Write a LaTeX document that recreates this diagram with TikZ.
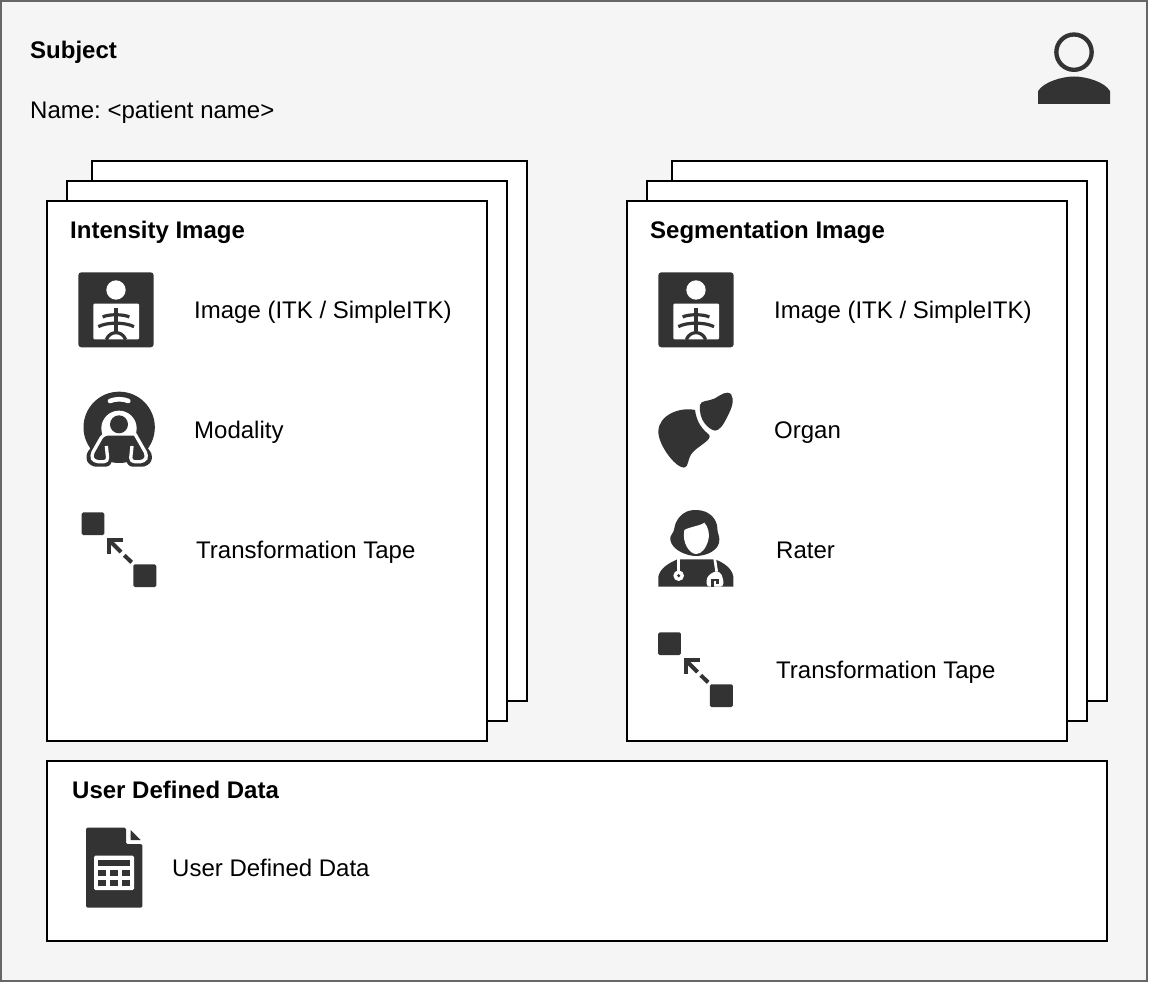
\documentclass[tikz,border=0pt]{standalone}
\usepackage{fontspec}
\setmainfont{Liberation Sans}
\usepackage{xcolor}
\usepackage{tikz}
\definecolor{ink}{HTML}{333333}
\definecolor{frame}{HTML}{666666}
\definecolor{paper}{HTML}{F5F5F5}
\frenchspacing

\newcommand{\iconxray}[2]{
\begin{scope}[shift={(#1,#2)},scale=1/3]
\fill [ink, rounded corners=3pt] (55,37) rectangle (281,262);
\fill [white] (168,90) circle (29);
\fill [white, rounded corners=1pt] (100,131) rectangle (237,238);
\draw [ink, line width=3.6pt] (168,143) -- (168,222);
\draw [ink, line width=3.2pt] (128,171) .. controls (145,162) and (190,162) .. (208,171);
\draw [ink, line width=3.2pt] (115,200) .. controls (140,186) and (195,186) .. (222,200);
\draw [ink, line width=3.2pt] (139,239) .. controls (145,222) and (160,218) .. (168,218) .. controls (176,218) and (191,222) .. (197,239);
\end{scope}
}
\newcommand{\iconscanner}[2]{
\begin{scope}[shift={(#1,#2)},scale=1/3]
\fill [ink] (117.5,112) circle (107);
\fill [ink, rounded corners=6pt] (50,150) -- (14,198) -- (30,230) -- (95,230) -- (95,170) -- cycle;
\fill [ink, rounded corners=6pt] (185,150) -- (221,198) -- (205,230) -- (140,230) -- (140,170) -- cycle;
\draw [white, line width=4.6pt, line cap=round] (90,33) .. controls (105,26) and (130,26) .. (145,33);
\fill [white] (117,115) circle (53);
\fill [ink, rounded corners=3pt] (70,132) -- (165,132) -- (202,197) -- (193,215) -- (42,215) -- (33,197) -- cycle;
\draw [white, line width=3.3pt, line join=round, rounded corners=4pt] (165,132) -- (70,132) -- (33,197) -- (42,215) -- (84,215) -- (79,168);
\draw [white, line width=3.3pt, line join=round, rounded corners=4pt] (165,132) -- (202,197) -- (193,215) -- (151,215) -- (156,168);
\fill [ink] (117,103) circle (27);
\end{scope}
}
\newcommand{\icontape}[2]{
\begin{scope}[shift={(#1,#2)},scale=1/3]
\fill [ink, rounded corners=1.5pt] (35,37) rectangle (103,105);
\fill [ink, rounded corners=1.5pt] (190,193) rectangle (259,261);
\draw [ink, line width=4pt] (160,121) -- (118,121) -- (118,162);
\draw [ink, line width=4pt] (122,125) -- (153,156);
\draw [ink, line width=4pt] (163,166) -- (185,187);
\end{scope}
}
\newcommand{\iconliver}[2]{
\begin{scope}[shift={(#1,#2)},scale=1/3]
\fill [ink] (165,90) .. controls (120,80) and (55,105) .. (55,155) .. controls (55,195) and (105,262) .. (132,263) .. controls (148,262) and (140,235) .. (160,215) .. controls (180,195) and (215,180) .. (208,165) .. controls (190,150) and (170,130) .. (165,90) -- cycle;
\fill [ink] (180,75) .. controls (182,60) and (205,65) .. (225,55) .. controls (245,42) and (262,32) .. (273,42) .. controls (285,60) and (275,85) .. (262,110) .. controls (250,135) and (238,152) .. (225,152) .. controls (205,148) and (175,120) .. (180,75) -- cycle;
\end{scope}
}
\newcommand{\iconrater}[2]{
\begin{scope}[shift={(#1,#2)},scale=1/3]
\fill [ink] (168,390) .. controls (125,388) and (105,425) .. (103,445) .. controls (102,460) and (88,465) .. (91,480) .. controls (96,510) and (140,528) .. (168,528) .. controls (200,528) and (240,510) .. (238,478) .. controls (238,465) and (232,460) .. (232,445) .. controls (232,420) and (210,390) .. (168,390) -- cycle;
\fill [white] (133,450) .. controls (150,440) and (180,438) .. (193,428) .. controls (205,440) and (210,465) .. (205,480) .. controls (198,505) and (185,522) .. (168,522) .. controls (150,522) and (125,490) .. (133,450) -- cycle;
\fill [ink] (55,620) -- (55,590) .. controls (60,565) and (85,550) .. (112,538) -- (225,538) .. controls (255,550) and (275,565) .. (280,590) -- (280,620) -- cycle;
\draw [white, line width=2.7pt] (116,535) -- (116,580);
\fill [white] (116,587) circle (16);
\fill [ink] (116,587) circle (5);
\draw [white, line width=2.7pt] (224,535) -- (230,575);
\fill [white, rounded corners=3pt] (200,620) -- (200,592) -- (220,575) -- (240,575) -- (250,597) -- (250,620) -- cycle;
\fill [ink] (214,596) rectangle (237,604);
\fill [ink] (214,604) rectangle (222,620);
\fill [ink] (229,604) rectangle (237,612);
\end{scope}
}
\newcommand{\iconsheet}[2]{
\begin{scope}[shift={(#1,#2)},scale=1/3]
\fill [ink, rounded corners=1.5pt] (48,38) -- (168,38) -- (168,87) -- (217,87) -- (217,278) -- (48,278) -- cycle;
\fill [ink] (182,45) -- (212,75) -- (182,75) -- cycle;
\fill [white, rounded corners=1.5pt] (72,122) rectangle (192,225);
\fill [ink] (84,134) rectangle (180,153);
\foreach \cx in {84,120,156} {
\fill [ink] (\cx,165) rectangle (\cx+24,183);
\fill [ink] (\cx,195) rectangle (\cx+24,213);
}
\end{scope}
}
\newcommand{\iconperson}[2]{
\begin{scope}[shift={(#1,#2)},scale=1/3]
\draw [ink, line width=4.3pt] (162,95) circle (53);
\fill [ink] (54,250) -- (54,212) .. controls (70,185) and (125,168) .. (162,168) .. controls (200,168) and (255,185) .. (270,212) -- (270,250) -- cycle;
\end{scope}
}

\begin{document}
\begin{tikzpicture}[x=1pt,y=-1pt]
\tikzstyle{outer} = [draw=frame, fill=paper, line width=2pt, outer sep=0pt, inner sep=0pt, anchor=north west]
\tikzstyle{sheet} = [draw=black, fill=white, line width=2pt, outer sep=0pt, inner sep=0pt, anchor=north west]
\tikzstyle{txt} = [anchor=base west, inner sep=0pt, text=black, font=\fontsize{24}{28}\selectfont]
\tikzstyle{head} = [txt, font=\fontsize{24}{28}\selectfont\bfseries]
\useasboundingbox (0,0) rectangle (1150,984);
\fill [white] (0,0) rectangle (1150,984);
\node [outer, minimum width=1146pt, minimum height=980pt] (subject) at (1,1) {};
\node [head] (subjecthead) at (30,59) {Subject};
\node [txt] (subjectname) at (30,119) {Name: <patient name>};
\iconperson{1020}{20.5}
% intensity stack
\node [sheet, minimum width=435pt, minimum height=540pt] (int3) at (92,161) {};
\node [sheet, minimum width=440pt, minimum height=540pt] (int2) at (67,181) {};
\node [sheet, minimum width=440pt, minimum height=540pt] (int1) at (47,201) {};
\node [head] (inthead) at (70,239) {Intensity Image};
\iconxray{60}{260}
\node [txt] (intimage) at (194,318) {Image (ITK / SimpleITK)};
\iconscanner{80}{390}
\node [txt] (intmod) at (194,438) {Modality};
\icontape{70}{500}
\node [txt] (inttape) at (196,558) {Transformation Tape};
% segmentation stack
\node [sheet, minimum width=435pt, minimum height=540pt] (seg3) at (672,161) {};
\node [sheet, minimum width=440pt, minimum height=540pt] (seg2) at (647,181) {};
\node [sheet, minimum width=440pt, minimum height=540pt] (seg1) at (627,201) {};
\node [head] (seghead) at (650,239) {Segmentation Image};
\iconxray{640}{260}
\node [txt] (segimage) at (774,318) {Image (ITK / SimpleITK)};
\iconliver{640}{380}
\node [txt] (segorgan) at (774,438) {Organ};
\iconrater{640}{380}
\node [txt] (segrater) at (776,558) {Rater};
\icontape{646.5}{620}
\node [txt] (segtape) at (776,678) {Transformation Tape};
% user data
\node [sheet, minimum width=1060pt, minimum height=180pt] (user) at (47,761) {};
\node [head] (userhead) at (72,798) {User Defined Data};
\iconsheet{70}{815}
\node [txt] (usertxt) at (172,876) {User Defined Data};
\end{tikzpicture}
\end{document}
